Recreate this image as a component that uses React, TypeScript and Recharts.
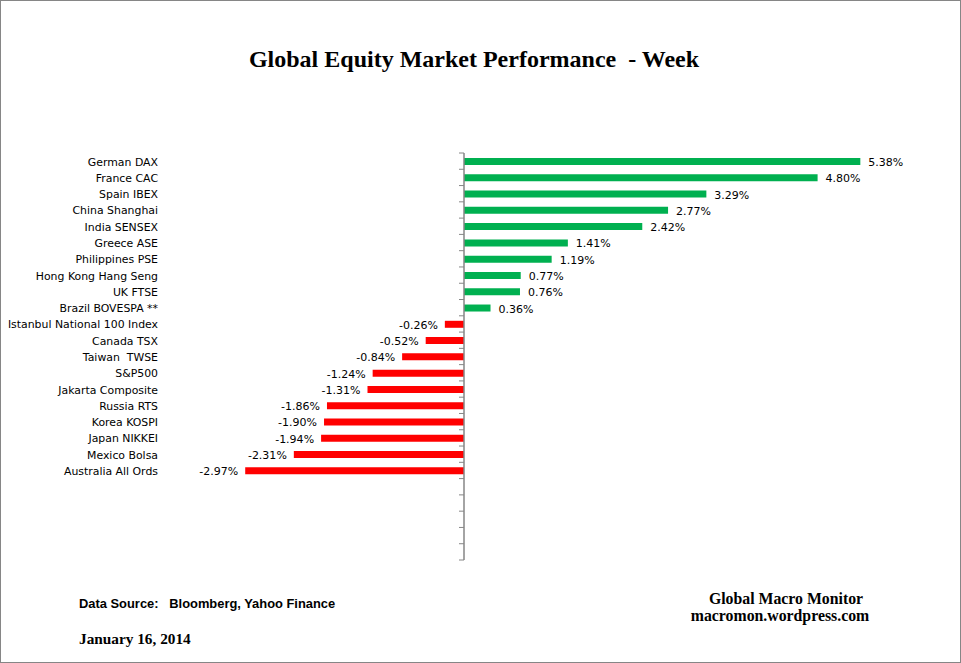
import React from 'react';
import { BarChart, Bar, XAxis, YAxis, Cell, LabelList, ReferenceLine } from 'recharts';

// weekly % change, sorted best to worst
const markets = [
  'German DAX',
  'France CAC',
  'Spain IBEX',
  'China Shanghai',
  'India SENSEX',
  'Greece ASE',
  'Philippines PSE',
  'Hong Kong Hang Seng',
  'UK FTSE',
  'Brazil BOVESPA **',
  'Istanbul National 100 Index',
  'Canada TSX',
  'Taiwan  TWSE',
  'S&P500',
  'Jakarta Composite',
  'Russia RTS',
  'Korea KOSPI',
  'Japan NIKKEI',
  'Mexico Bolsa',
  'Australia All Ords',
];
const weekChange = [
  5.38, 4.8, 3.29, 2.77, 2.42, 1.41, 1.19, 0.77, 0.76, 0.36,
  -0.26, -0.52, -0.84, -1.24, -1.31, -1.86, -1.9, -1.94, -2.31, -2.97,
];
const emptyRows = 5; // blank slots left at the bottom of the axis

const W = 961;
const H = 663;
const axisW = 10;
const margin = { top: 153, right: 55, bottom: 103, left: 243 - axisW };
const xDomain: [number, number] = [-3, 6];
const plotLeft = margin.left + axisW;
const plotW = W - plotLeft - margin.right;
const plotH = H - margin.top - margin.bottom;
const zeroX = plotLeft + ((0 - xDomain[0]) / (xDomain[1] - xDomain[0])) * plotW;

const GREEN = '#00B050';
const RED = '#FF0000';
const AXIS = '#868686';
const FONT = '"DejaVu Sans", Tahoma, sans-serif';

const data = [
  ...markets.map((name, i) => ({ name, value: weekChange[i] })),
  ...Array.from({ length: emptyRows }, (_, i) => ({ name: `__blank${i}`, value: null })),
];
const rowH = plotH / data.length;

const CategoryTick = (props: any) => {
  const { y, payload, index } = props;
  const name: string = String(payload?.value ?? '');
  const top = y - rowH / 2;
  return (
    <g>
      {!name.startsWith('__blank') && (
        <text
          x={158}
          y={y + 4.5}
          textAnchor="end"
          fontSize={10.9}
          fontFamily={FONT}
          fill="#000"
          style={{ whiteSpace: 'pre' }}
        >
          {name}
        </text>
      )}
      <line x1={zeroX - 5} x2={zeroX} y1={top} y2={top} stroke={AXIS} strokeWidth={1} />
      {index === data.length - 1 && (
        <line x1={zeroX - 5} x2={zeroX} y1={top + rowH} y2={top + rowH} stroke={AXIS} strokeWidth={1} />
      )}
    </g>
  );
};

const ValueLabel = (props: any) => {
  const { x, y, width, height, value } = props;
  if (value === null || value === undefined) return null;
  const left = Math.min(x, x + width);
  const right = Math.max(x, x + width);
  const cy = y + height / 2 + 4.5;
  const pos = value >= 0;
  return (
    <text
      x={pos ? right + 8 : left - 7}
      y={cy}
      textAnchor={pos ? 'start' : 'end'}
      fontSize={11}
      fontFamily={FONT}
      fill="#000"
    >
      {value.toFixed(2)}%
    </text>
  );
};

export default function App() {
  return (
    <div
      style={{
        position: 'absolute',
        left: 0,
        top: 0,
        width: W,
        height: H,
        background: '#fff',
        boxSizing: 'border-box',
        border: `1px solid ${AXIS}`,
      }}
    >
      <div style={{ position: 'absolute', left: -1, top: -1 }}>
        <BarChart width={W} height={H} data={data} layout="vertical" margin={margin}>
          <XAxis type="number" domain={xDomain} hide />
          <YAxis
            type="category"
            dataKey="name"
            width={axisW}
            interval={0}
            axisLine={false}
            tickLine={false}
            tick={<CategoryTick />}
          />
          <ReferenceLine x={0} stroke={AXIS} strokeWidth={1.5} />
          <Bar dataKey="value" barSize={7} isAnimationActive={false}>
            {data.map((d, i) => (
              <Cell key={i} fill={d.value !== null && d.value < 0 ? RED : GREEN} />
            ))}
            <LabelList dataKey="value" content={(p: any) => <ValueLabel {...p} />} />
          </Bar>
        </BarChart>
      </div>
      <svg
        width={W}
        height={H}
        style={{ position: 'absolute', left: -1, top: -1, pointerEvents: 'none' }}
      >
        <text
          x={474}
          y={67}
          textAnchor="middle"
          fontFamily='"Liberation Serif", serif'
          fontWeight="bold"
          fontSize={24}
          fill="#000"
          style={{ whiteSpace: 'pre' }}
        >
          {'Global Equity Market Performance  - Week'}
        </text>
        <text
          x={79}
          y={608}
          fontFamily='"Liberation Sans", sans-serif'
          fontWeight="bold"
          fontSize={12.9}
          fill="#000"
          style={{ whiteSpace: 'pre' }}
        >
          {'Data Source:   Bloomberg, Yahoo Finance'}
        </text>
        <text x={79} y={644} fontFamily='"Liberation Serif", serif' fontWeight="bold" fontSize={15.3} fill="#000">
          January 16, 2014
        </text>
        <text
          x={786}
          y={604}
          textAnchor="middle"
          fontFamily='"Liberation Serif", serif'
          fontWeight="bold"
          fontSize={15.8}
          fill="#000"
        >
          Global Macro Monitor
        </text>
        <text
          x={780}
          y={621}
          textAnchor="middle"
          fontFamily='"Liberation Serif", serif'
          fontWeight="bold"
          fontSize={15.8}
          fill="#000"
        >
          macromon.wordpress.com
        </text>
      </svg>
    </div>
  );
}
